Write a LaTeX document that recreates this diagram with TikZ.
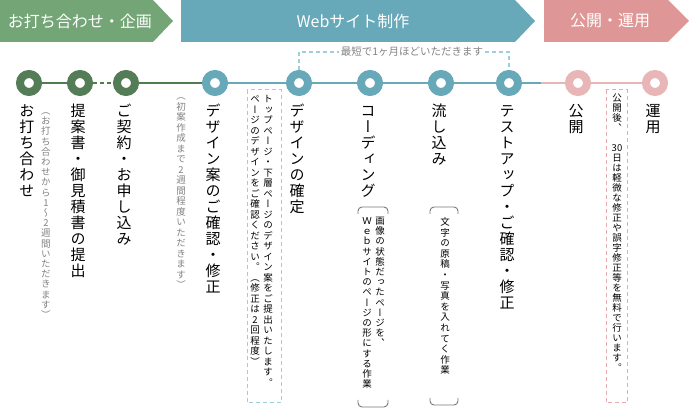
\documentclass[tikz,border=0pt]{standalone}
\usepackage{fontspec}
\setmainfont{Noto Sans CJK JP}
\newfontfamily\jp{Noto Sans CJK JP}
\newfontfamily\jpv[RawFeature=+vert]{Noto Sans CJK JP}
\makeatletter
\let\vt@stop\relax
\def\vt@stopmark{\vt@stop}
\def\vt@loop#1{\def\vt@a{#1}\ifx\vt@a\vt@stopmark\else\hbox to 1em{\hss\vrule height .88em depth .12em width 0pt\relax #1\hss}\expandafter\vt@loop\fi}
\newcommand\vtext[2][1em]{\vbox{\baselineskip=#1\relax\lineskiplimit=-\maxdimen\lineskip=0pt\relax\vt@loop#2\vt@stop}}
\makeatother
\definecolor{gbanner}{RGB}{116,165,118}
\definecolor{gcirc}{RGB}{84,124,86}
\definecolor{gline}{RGB}{80,125,80}
\definecolor{bbanner}{RGB}{103,168,185}
\definecolor{bcirc}{RGB}{103,168,185}
\definecolor{pbanner}{RGB}{222,150,150}
\definecolor{pcirc}{RGB}{232,182,182}
\definecolor{lbdash}{RGB}{160,205,218}
\definecolor{pdash}{RGB}{232,170,170}
\definecolor{subgray}{RGB}{130,130,130}
\definecolor{brgray}{RGB}{120,120,120}
\begin{document}
\begin{tikzpicture}[x=1pt,y=-1pt,
  ring/.style={circle,minimum size=18pt,inner sep=0pt,line width=8pt,fill=white},
  btext/.style={text=white,inner sep=0pt,font=\jp\fontsize{16}{18}\selectfont},
  mainlab/.style={anchor=north,inner sep=0pt,font=\jpv\fontsize{15}{16}\selectfont},
  sublab/.style={anchor=north,inner sep=0pt,text=subgray,font=\jpv\fontsize{9.5}{10.5}\selectfont},
  boxlab/.style={anchor=north,inner sep=0pt,font=\jpv\fontsize{9.5}{10.5}\selectfont},
  tline/.style={line width=1.2pt},
  ddash/.style={line width=1.2pt,dash pattern=on 4pt off 3pt},
  bracket/.style={draw=brgray,line width=0.9pt,rounded corners=4pt}
]
\useasboundingbox (0,0) rectangle (689,419);
% banners
\fill[gbanner] (0,0) -- (153,0) -- (173,21) -- (153,42) -- (0,42) -- cycle;
\fill[bbanner] (181,0) -- (515,0) -- (535,21) -- (515,42) -- (181,42) -- cycle;
\fill[pbanner] (544,0) -- (668,0) -- (689,21) -- (668,42) -- (544,42) -- cycle;
\node[btext] (t1) at (80,21) {お打ち合わせ・企画};
\node[btext] (t2) at (353,21) {Webサイト制作};
\node[btext] (t3) at (610,21) {公開・運用};
% circles
\foreach \n/\x/\c in {c1/29/gcirc,c2/80/gcirc,c3/126/gcirc,c4/215/bcirc,c5/299/bcirc,c6/370/bcirc,c7/441/bcirc,c8/509/bcirc,c9/578/pcirc,c10/655/pcirc}
  \node[ring,draw=\c] (\n) at (\x,83) {};
\coordinate (m) at (541,83);
% timeline
\draw[tline,gline] (c1) -- (c2);
\draw[tline,gline,dash pattern=on 4pt off 3pt] (c2) -- (c3);
\draw[tline,gline] (c3) -- (c4);
\draw[tline,bbanner] (c4) -- (c5) (c5) -- (c6) (c6) -- (c7) (c7) -- (c8) (c8) -- (m);
\draw[tline,pcirc] (m) -- (c9) (c9) -- (c10);
% one-month bracket
\node[text=subgray,inner sep=2pt,font=\jp\fontsize{10.5}{12}\selectfont] (tx) at (412,52) {最短で1ヶ月ほどいただきます};
\draw[ddash,lbdash] (c5.north) |- (tx.west);
\draw[ddash,lbdash] (tx.east) -| (c8.north);
% main labels
\node[mainlab] (l1) at (27,103) {\vtext[16pt]{お打ち合わせ}};
\node[mainlab] (l2) at (78,103) {\vtext[16pt]{提案書・御見積書の提出}};
\node[mainlab] (l3) at (124,103) {\vtext[16pt]{ご契約・お申し込み}};
\node[mainlab] (l4) at (213,103) {\vtext[16pt]{デザイン案のご確認・修正}};
\node[mainlab] (l5) at (297,103) {\vtext[16pt]{デザインの確定}};
\node[mainlab] (l6) at (368,103) {\vtext[16pt]{コーディング}};
\node[mainlab] (l7) at (439,103) {\vtext[16pt]{流し込み}};
\node[mainlab] (l8) at (507,103) {\vtext[16pt]{テストアップ・ご確認・修正}};
\node[mainlab] (l9) at (576,103) {\vtext[16pt]{公開}};
\node[mainlab] (l10) at (653,103) {\vtext[16pt]{運用}};
% sub labels
\node[sublab] (s1) at (46,106) {\vtext[10.2pt]{（お打ち合わせから1〜2週間いただきます）}};
\node[sublab] (s2) at (181,91) {\vtext[10.5pt]{（初案作成まで2週間程度いただきます）}};
% design box
\draw[ddash,lbdash,line width=1pt] (247,90) rectangle (281,403);
\node[boxlab] (d1) at (268,94) {\vtext[10.5pt]{トップページ・下層ページのデザイン案をご提出いたします。}};
\node[boxlab] (d2) at (255,94) {\vtext[10.5pt]{ページのデザインをご確認ください。（修正は2回程度）}};
% coding bracket
\draw[bracket] (358,214) -- (358,207) -- (388,207) -- (388,214);
\draw[bracket] (358,400) -- (358,407) -- (388,407) -- (388,400);
\node[boxlab] (k1) at (380,216) {\vtext[10.2pt]{画像の状態だったページを、}};
\node[boxlab] (k2) at (367,216) {\vtext[10.2pt]{Ｗｅｂサイトのページの形にする作業}};
% nagashikomi bracket
\draw[bracket] (430,214) -- (430,207) -- (458,207) -- (458,214);
\draw[bracket] (430,398) -- (430,405) -- (458,405) -- (458,398);
\node[boxlab] (n1) at (445,217) {\vtext[10.6pt]{文字の原稿・写真を入れてく作業}};
% release box
\draw[ddash,pdash,line width=1pt] (606,90) rectangle (627,403);
\node[boxlab] (p1) at (617,93) {\vtext[10pt]{公開後、　{30}日は軽微な修正や誤字修正等を無料で行います。}};
\end{tikzpicture}
\end{document}
